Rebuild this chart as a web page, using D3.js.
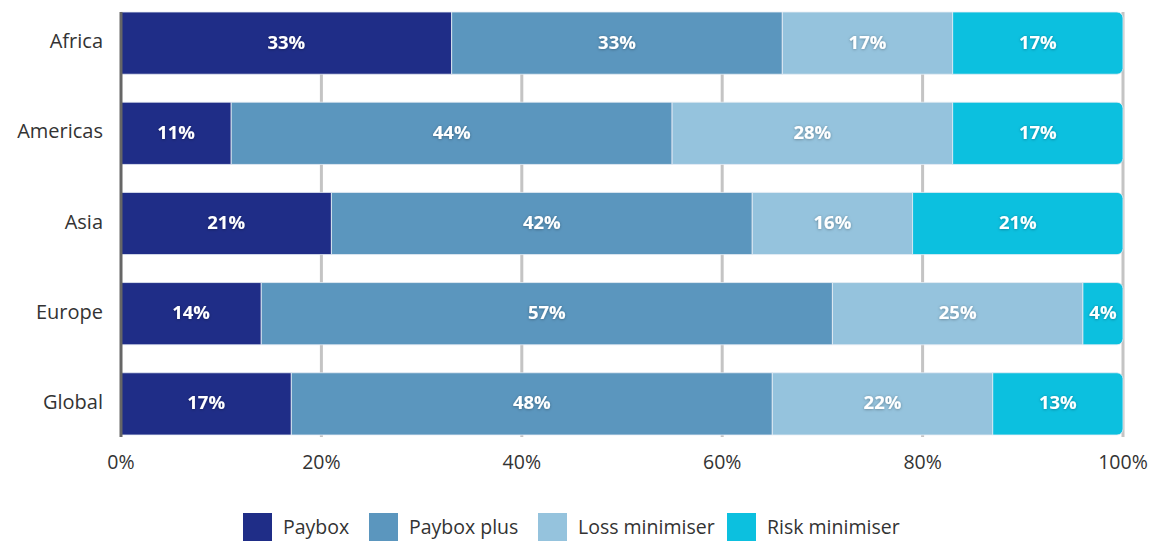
<!DOCTYPE html>
<html>
<head>
<meta charset="utf-8">
<script src="https://cdn.jsdelivr.net/npm/d3@7"></script>
<style>
  body { margin: 0; background: #fff; }
  svg { font-family: 'Open Sans', sans-serif; }
</style>
</head>
<body>
<svg id="chart" width="1157" height="541"></svg>
<script>
const regions = ['Africa', 'Americas', 'Asia', 'Europe', 'Global'];
const seriesNames = ['Paybox', 'Paybox plus', 'Loss minimiser', 'Risk minimiser'];
const seriesColors = ['#1f2d87', '#5b96be', '#95c3dd', '#0cc0df'];
const paybox = [33, 11, 21, 14, 17];
const payboxPlus = [33, 44, 42, 57, 48];
const lossMinimiser = [17, 28, 16, 25, 22];
const riskMinimiser = [17, 17, 21, 4, 13];
const xTicks = [0, 20, 40, 60, 80, 100];

const svg = d3.select('#chart');

const rows = regions.map((region, i) => ({
  region,
  'Paybox': paybox[i],
  'Paybox plus': payboxPlus[i],
  'Loss minimiser': lossMinimiser[i],
  'Risk minimiser': riskMinimiser[i]
}));

const stacked = d3.stack().keys(seriesNames)(rows);

const x = d3.scaleLinear().domain([0, 100]).range([121, 1123]);
const y = d3.scaleBand().domain(regions).range([12, 435]).paddingInner(0.31).paddingOuter(0);
const color = d3.scaleOrdinal().domain(seriesNames).range(seriesColors);

const defs = svg.append('defs');
defs.append('filter')
  .attr('id', 'shadow')
  .attr('x', '-20%').attr('y', '-40%').attr('width', '140%').attr('height', '180%')
  .append('feDropShadow')
    .attr('dx', 0).attr('dy', 0.5)
    .attr('stdDeviation', 1.5)
    .attr('flood-color', '#000')
    .attr('flood-opacity', 0.35);

// gridlines
svg.append('g')
  .selectAll('line')
  .data(xTicks.slice(1))
  .join('line')
    .attr('x1', d => x(d)).attr('x2', d => x(d))
    .attr('y1', 12).attr('y2', 437)
    .attr('stroke', '#c4c4c4')
    .attr('stroke-width', 3);

// bars
const r = 6;
function segPath(x0, x1, y0, h, rounded) {
  if (!rounded) return `M${x0},${y0}H${x1}V${y0 + h}H${x0}Z`;
  return `M${x0},${y0}H${x1 - r}A${r},${r} 0 0 1 ${x1},${y0 + r}V${y0 + h - r}A${r},${r} 0 0 1 ${x1 - r},${y0 + h}H${x0}Z`;
}

const layers = svg.append('g')
  .selectAll('g')
  .data(stacked)
  .join('g')
    .attr('fill', s => color(s.key));

layers.selectAll('path')
  .data(s => s.map(d => ({ d, last: s.index === seriesNames.length - 1 })))
  .join('path')
    .attr('d', o => segPath(x(o.d[0]), x(o.d[1]), y(o.d.data.region), y.bandwidth(), o.last))
    .attr('stroke', '#e8eef5')
    .attr('stroke-width', 0.8);

// value labels
layers.selectAll('text')
  .data(s => s)
  .join('text')
    .attr('x', d => (x(d[0]) + x(d[1])) / 2)
    .attr('y', d => y(d.data.region) + y.bandwidth() / 2 - 1)
    .attr('dy', '0.35em')
    .attr('text-anchor', 'middle')
    .attr('fill', '#fff')
    .attr('font-weight', 700)
    .attr('font-size', 18.5)
    .attr('filter', 'url(#shadow)')
    .text(d => `${d[1] - d[0]}%`);

// left axis line
svg.append('line')
  .attr('x1', 121).attr('x2', 121)
  .attr('y1', 12).attr('y2', 437)
  .attr('stroke', '#666')
  .attr('stroke-width', 3);

// category labels
svg.append('g')
  .selectAll('text')
  .data(regions)
  .join('text')
    .attr('x', 103)
    .attr('y', d => y(d) + y.bandwidth() / 2 - 2)
    .attr('dy', '0.35em')
    .attr('text-anchor', 'end')
    .attr('fill', '#333')
    .attr('font-size', 20)
    .text(d => d);

// x tick labels
svg.append('g')
  .selectAll('text')
  .data(xTicks)
  .join('text')
    .attr('x', d => x(d))
    .attr('y', 462)
    .attr('dy', '0.35em')
    .attr('text-anchor', 'middle')
    .attr('fill', '#333')
    .attr('font-size', 19.5)
    .text(d => `${d}%`);

// legend
const legendX = [243, 369, 538, 727];
const legend = svg.append('g')
  .selectAll('g')
  .data(seriesNames)
  .join('g')
    .attr('transform', (d, i) => `translate(${legendX[i]}, 513)`);

legend.append('rect')
  .attr('width', 29).attr('height', 30)
  .attr('fill', d => color(d));

legend.append('text')
  .attr('x', 40)
  .attr('y', 14)
  .attr('dy', '0.35em')
  .attr('fill', '#333')
  .attr('font-size', 19.5)
  .text(d => d);
</script>
</body>
</html>
